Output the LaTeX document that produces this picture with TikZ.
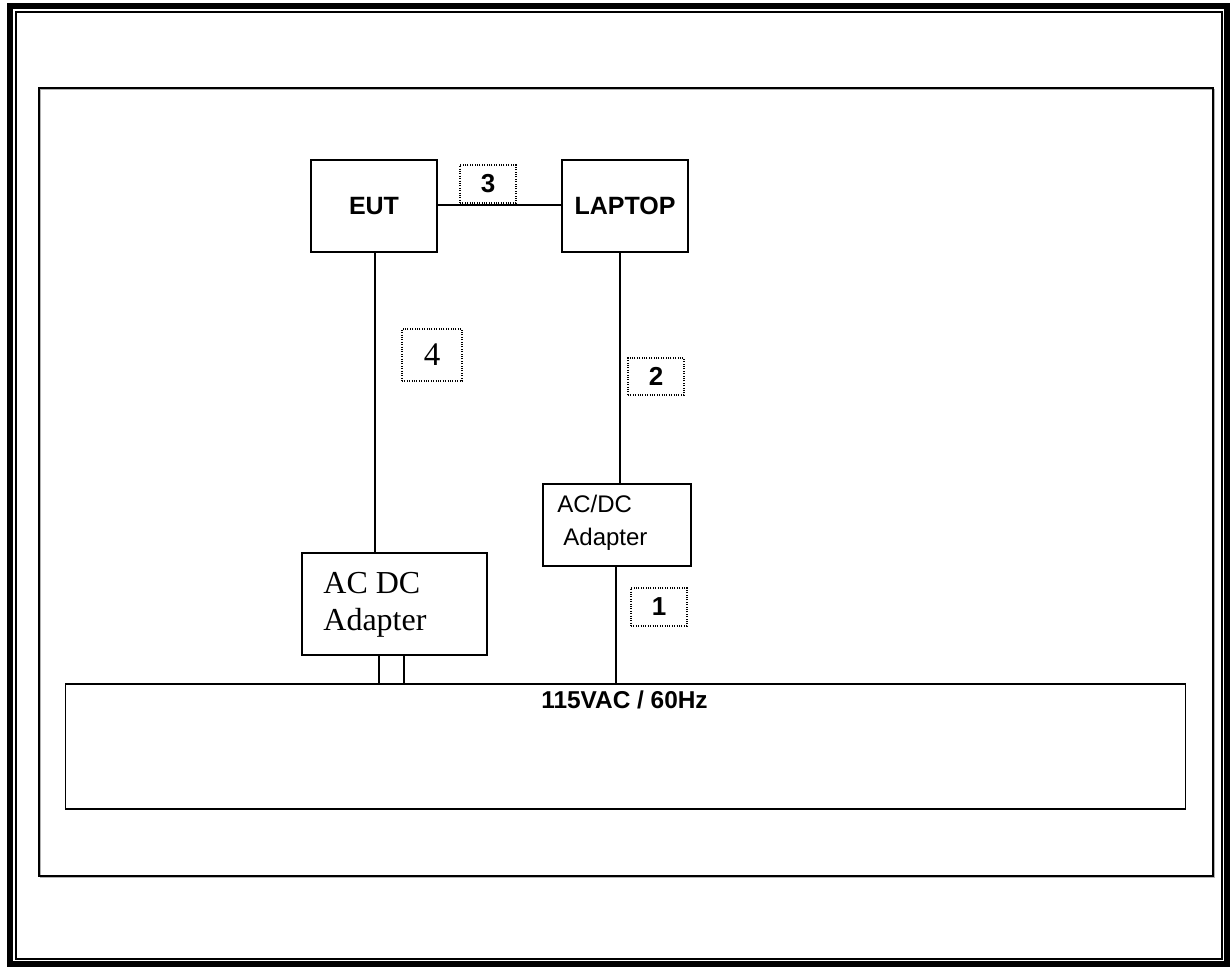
\documentclass[tikz,border=0pt]{standalone}
\usepackage{fontspec}
\setmainfont{Liberation Serif}
\setsansfont{Liberation Sans}
\usetikzlibrary{calc}
\tikzset{
  box/.style={draw, line width=0.8pt, inner sep=0pt, font=\sffamily\bfseries\fontsize{12.5}{14}\selectfont},
  lbl/.style={draw, line width=0.6pt, dash pattern=on 0.5pt off 0.7pt, inner sep=0pt},
  num/.style={font=\sffamily\bfseries\fontsize{13}{15}\selectfont},
  wire/.style={line width=0.7pt},
}
\begin{document}
\begin{tikzpicture}[x=0.5pt,y=-0.5pt]
\useasboundingbox (0,0) rectangle (1230,967);
% outer frame
\draw[line width=3pt] (10,6) rectangle (1227,964);
\draw[line width=0.8pt] (16,12) rectangle (1222,959);
% inner frame
\draw[line width=0.8pt, gray!60] (40.5,89.5) rectangle (1214,877);
\draw[line width=0.6pt] (39,88) rectangle (1213,876);
% main boxes
\node[box, minimum width=63pt, minimum height=46pt] (eut) at (374,206) {EUT};
\node[box, minimum width=63pt, minimum height=46pt] (laptop) at (625,206) {LAPTOP};
\node[box, minimum width=74pt, minimum height=41pt] (ad2) at (617,525) {};
\node[font=\sffamily\fontsize{12}{13}\selectfont, anchor=base west, inner sep=0pt] (ad2a) at (557,512) {AC/DC};
\node[font=\sffamily\fontsize{12}{13}\selectfont, anchor=base west, inner sep=0pt] (ad2b) at (563,545) {Adapter};
\node[box, minimum width=92.5pt, minimum height=51pt] (ad1) at (394.5,604) {};
\node[font=\rmfamily\fontsize{16}{18}\selectfont, anchor=base west, inner sep=0pt] (ad1a) at (323,593) {AC DC};
\node[font=\rmfamily\fontsize{16}{18}\selectfont, anchor=base west, inner sep=0pt] (ad1b) at (323,630) {Adapter};
\node[box, minimum width=560pt, minimum height=62.5pt] (mains) at (625.5,746.5) {};
\node[font=\sffamily\bfseries\fontsize{12.2}{14}\selectfont, anchor=base, inner sep=0pt] (mainst) at (624.5,708) {115VAC / 60Hz};
% labels
\node[lbl, num, minimum width=28pt, minimum height=19pt] (l3) at (488,184) {3};
\node[lbl, minimum width=30pt, minimum height=26pt, font=\rmfamily\fontsize{16.5}{18}\selectfont] (l4) at (432,355) {4};
\node[lbl, num, minimum width=28pt, minimum height=18.5pt] (l2) at (656,376.5) {2};
\node[lbl, num, minimum width=28pt, minimum height=19pt] (l1) at (659,607) {1};
% connector anchor points
\coordinate (e1) at ($(eut.south)+(1,0)$);
\coordinate (p1) at ($(laptop.south)+(-5,0)$);
\coordinate (a2) at ($(ad2.south)+(-1,0)$);
\coordinate (pa) at ($(ad1.south)+(-15.5,0)$);
\coordinate (pb) at ($(ad1.south)+(9.5,0)$);
\coordinate (h1) at (0,205);
% connectors
\draw[wire] (eut.east |- h1) -- (laptop.west |- h1);
\draw[wire] (e1) -- (e1 |- ad1.north);
\draw[wire] (p1) -- (p1 |- ad2.north);
\draw[wire] (a2) -- (a2 |- mains.north);
\draw[wire] (pa) -- (pa |- mains.north);
\draw[wire] (pb) -- (pb |- mains.north);
\end{tikzpicture}
\end{document}
